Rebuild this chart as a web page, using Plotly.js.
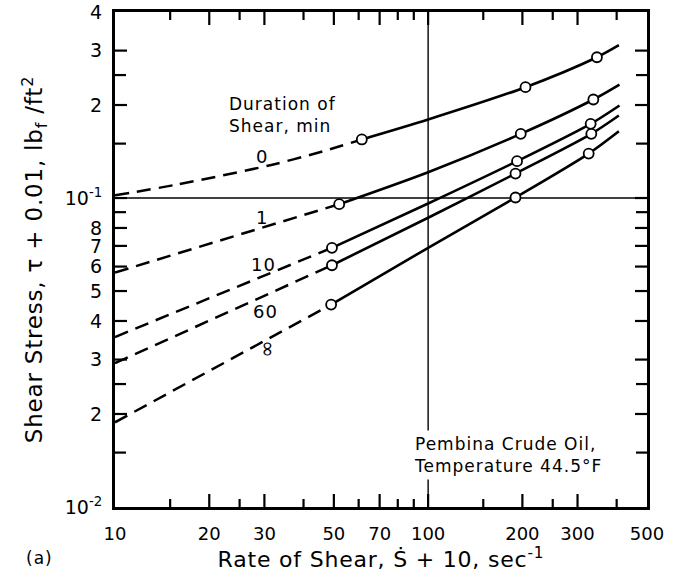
<!DOCTYPE html>
<html>
<head>
<meta charset="utf-8">
<script src="https://cdn.plot.ly/plotly-3.0.1.min.js"></script>
<style>
html,body{margin:0;padding:0;background:#fff;}
#chart{width:686px;height:572px;}
.annotation-text{letter-spacing:1px;}
.xtitle,.ytitle{letter-spacing:0.8px;}
</style>
</head>
<body>
<div id="chart"></div>
<script>
// ---- data ----
const durations = ['0', '1', '10', '60', '∞'];

// dashed (extrapolated) parts
const dash0X = [10, 15.8, 31.3, 46.3, 61.4];
const dash0Y = [0.102, 0.1106, 0.1277, 0.1418, 0.1547];
const dash1X = [10, 52];
const dash1Y = [0.0574, 0.0955];
const dash10X = [10, 49.3];
const dash10Y = [0.0355, 0.069];
const dash60X = [10, 49.3];
const dash60Y = [0.0292, 0.0606];
const dashInfX = [10, 49];
const dashInfY = [0.0188, 0.0452];

// solid fitted curves
const curve0X = [61.4, 100, 204.6, 346, 406.6];
const curve0Y = [0.1547, 0.1795, 0.2284, 0.2855, 0.3123];
const curve1X = [52, 100, 197.6, 337, 408.5];
const curve1Y = [0.0955, 0.1212, 0.1613, 0.2084, 0.2329];
const curve10X = [49.3, 100, 192.3, 330.4, 408.5];
const curve10Y = [0.069, 0.096, 0.1316, 0.1738, 0.1993];
const curve60X = [49.3, 100, 190.1, 332, 406.6];
const curve60Y = [0.0606, 0.0863, 0.12, 0.1613, 0.1849];
const curveInfX = [49, 100, 190.1, 325.6, 406.6];
const curveInfY = [0.0452, 0.069, 0.1004, 0.1393, 0.1645];

// measured points (open circles)
const pts0X = [61.4, 204.6, 346];
const pts0Y = [0.1547, 0.2284, 0.2855];
const pts1X = [52, 197.6, 337];
const pts1Y = [0.0955, 0.1613, 0.2084];
const pts10X = [49.3, 192.3, 330.4];
const pts10Y = [0.069, 0.1316, 0.1738];
const pts60X = [49.3, 190.1, 332];
const pts60Y = [0.0606, 0.12, 0.1613];
const ptsInfX = [49, 190.1, 325.6];
const ptsInfY = [0.0452, 0.1004, 0.1393];

// axes ticks
const xTickVals = [10, 20, 30, 50, 70, 100, 200, 300, 500];
const xTickText = ['10', '20', '30', '50', '70', '100', '200', '300', '500'];
const xMinorVals = [15, 25, 40, 60, 80, 90, 150, 250, 400];
const yTickVals = [0.01, 0.02, 0.03, 0.04, 0.05, 0.06, 0.07, 0.08, 0.1, 0.2, 0.3, 0.4];
const yTickText = ['10<sup>-2</sup>', '2', '3', '4', '5', '6', '7', '8', '10<sup>-1</sup>', '2', '3', '4'];
const yMinorVals = [0.015, 0.025, 0.09, 0.15, 0.25];
const xRange = [10, 500];
const yRange = [0.01, 0.4];
const gridX = 100;
const gridY = 0.1;

// ---- build traces ----
const FONT = 'DejaVu Sans, Liberation Sans, sans-serif';
const L = Math.log10;
const W = 686, H = 572, M = {l: 115, r: 39, t: 12, b: 65};
const plotW = W - M.l - M.r, plotH = H - M.t - M.b;

const dashes = [[dash0X, dash0Y], [dash1X, dash1Y], [dash10X, dash10Y], [dash60X, dash60Y], [dashInfX, dashInfY]];
const curves = [[curve0X, curve0Y], [curve1X, curve1Y], [curve10X, curve10Y], [curve60X, curve60Y], [curveInfX, curveInfY]];
const points = [[pts0X, pts0Y], [pts1X, pts1Y], [pts10X, pts10Y], [pts60X, pts60Y], [ptsInfX, ptsInfY]];

const traces = [];
durations.forEach((d, i) => {
  traces.push({
    x: dashes[i][0], y: dashes[i][1], mode: 'lines', name: d + ' min (extrapolated)',
    line: {color: 'black', width: 2.5, dash: '14px,8px', shape: 'spline', smoothing: 0.8},
    hoverinfo: 'skip', showlegend: false
  });
  traces.push({
    x: curves[i][0], y: curves[i][1], mode: 'lines', name: d + ' min',
    line: {color: 'black', width: 2.6, shape: 'spline', smoothing: 0.8},
    showlegend: false
  });
  traces.push({
    x: points[i][0], y: points[i][1], mode: 'markers', name: d + ' min data',
    marker: {symbol: 'circle', size: 10, color: 'white', line: {color: 'black', width: 1.8}},
    showlegend: false
  });
});

const curveLabels = [
  {t: durations[0], x: 29.5, y: 0.1366, s: 18},
  {t: durations[1], x: 29.5, y: 0.0863, s: 18},
  {t: durations[2], x: 29.8, y: 0.0609, s: 18},
  {t: durations[3], x: 30.2, y: 0.043, s: 18},
  {t: durations[4], x: 30.9, y: 0.0323, s: 21, rot: 90}
];
const annotations = curveLabels.map(c => ({
  xref: 'x', yref: 'y', x: L(c.x), y: L(c.y), text: c.t, showarrow: false,
  xanchor: 'center', yanchor: 'middle', textangle: c.rot || 0,
  font: {family: FONT, size: c.s, color: 'black'}
}));
annotations.push({
  xref: 'x', yref: 'y', x: L(22.8), y: L(0.185), text: 'Duration of<br>Shear, min',
  showarrow: false, xanchor: 'left', yanchor: 'middle', align: 'left',
  font: {family: FONT, size: 17, color: 'black'}
});
annotations.push({
  xref: 'x', yref: 'y', x: L(87.5), y: L(0.01468), text: 'Pembina Crude Oil,<br>Temperature 44.5°F',
  showarrow: false, xanchor: 'left', yanchor: 'middle', align: 'left', bgcolor: 'white', borderpad: 3,
  font: {family: FONT, size: 17, color: 'black'}
});
annotations.push({
  xref: 'paper', yref: 'paper', x: -0.142, y: -0.104, text: '(a)', showarrow: false,
  xanchor: 'center', yanchor: 'middle', font: {family: FONT, size: 17, color: 'black'}
});

const xr = [L(xRange[0]), L(xRange[1])];
const yr = [L(yRange[0]), L(yRange[1])];
const fx = v => (L(v) - xr[0]) / (xr[1] - xr[0]);
const fy = v => (L(v) - yr[0]) / (yr[1] - yr[0]);

// reference lines and inward tick marks on all four sides of the frame
const shapes = [
  {type: 'line', xref: 'paper', yref: 'paper', x0: fx(gridX), x1: fx(gridX), y0: 0, y1: 1, line: {color: 'black', width: 1.4}, layer: 'below'},
  {type: 'line', xref: 'paper', yref: 'paper', x0: 0, x1: 1, y0: fy(gridY), y1: fy(gridY), line: {color: 'black', width: 1.4}, layer: 'below'}
];
function xTick(v, len) {
  const f = fx(v), h = len / plotH;
  shapes.push({type: 'line', xref: 'paper', yref: 'paper', x0: f, x1: f, y0: 0, y1: h, line: {color: 'black', width: 2.2}, layer: 'below'});
  shapes.push({type: 'line', xref: 'paper', yref: 'paper', x0: f, x1: f, y0: 1, y1: 1 - h, line: {color: 'black', width: 2.2}, layer: 'below'});
}
function yTick(v, len) {
  const f = fy(v), w = len / plotW;
  shapes.push({type: 'line', xref: 'paper', yref: 'paper', x0: 0, x1: w, y0: f, y1: f, line: {color: 'black', width: 2.2}, layer: 'below'});
  shapes.push({type: 'line', xref: 'paper', yref: 'paper', x0: 1, x1: 1 - w, y0: f, y1: f, line: {color: 'black', width: 2.2}, layer: 'below'});
}
xTickVals.slice(1, -1).forEach(v => xTick(v, 13));
xMinorVals.forEach(v => xTick(v, 8));
yTickVals.slice(1, -1).forEach(v => yTick(v, 12));
yMinorVals.forEach(v => yTick(v, 11));

const layout = {
  width: W, height: H,
  margin: M,
  paper_bgcolor: 'white', plot_bgcolor: 'white',
  showlegend: false,
  font: {family: FONT, color: 'black'},
  xaxis: {
    type: 'log', range: xr, tickmode: 'array', tickvals: xTickVals, ticktext: xTickText,
    ticks: '', showgrid: false, zeroline: false,
    showline: true, linewidth: 3, linecolor: 'black', mirror: true,
    ticklabelstandoff: 8,
    tickfont: {family: FONT, size: 18, color: 'black'},
    title: {text: 'Rate of Shear, Ṡ + 10, sec<sup>-1</sup>', font: {family: FONT, size: 22, color: 'black'}, standoff: 5}
  },
  yaxis: {
    type: 'log', range: yr, tickmode: 'array', tickvals: yTickVals, ticktext: yTickText,
    ticks: '', showgrid: false, zeroline: false,
    showline: true, linewidth: 3, linecolor: 'black', mirror: true,
    ticklabelstandoff: 6,
    tickfont: {family: FONT, size: 19, color: 'black'},
    title: {text: 'Shear Stress, τ + 0.01, lb<sub>f</sub> /ft<sup>2</sup>', font: {family: FONT, size: 23, color: 'black'}, standoff: 16}
  },
  shapes: shapes,
  annotations: annotations
};

Plotly.newPlot('chart', traces, layout, {staticPlot: true, displayModeBar: false});
</script>
</body>
</html>
